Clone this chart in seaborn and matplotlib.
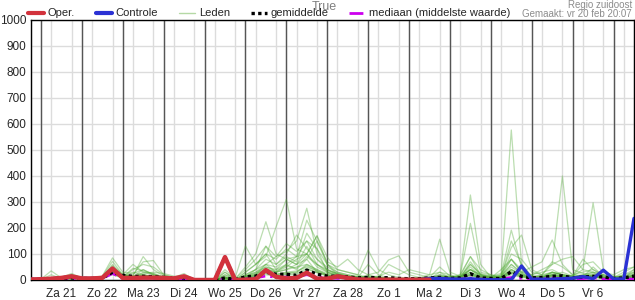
import numpy as np
import pandas as pd
import matplotlib
matplotlib.use("Agg")
import matplotlib.pyplot as plt
from matplotlib.lines import Line2D
import seaborn as sns

# ---------------- data (6-hourly, from vr 20 feb 18:00 to za 7 mrt 12:00) ----------------
start_uur = 18          # hours after vr 20 feb 00:00
stap_uur = 6
dag_labels = ["Za 21", "Zo 22", "Ma 23", "Di 24", "Wo 25", "Do 26", "Vr 27",
              "Za 28", "Zo 1", "Ma 2", "Di 3", "Wo 4", "Do 5", "Vr 6"]
y_ticks = [0, 100, 200, 300, 400, 500, 600, 700, 800, 900, 1000]

oper = [2, 3, 5, 8, 14,
        6, 6, 8, 44,
        8, 8, 9, 9,
        8, 6, 14, 0,
        0, 0, 88, 0,
        1, 3, 38, 12,
        6, 8, 28, 5,
        5, 14, 8, 2,
        1, 1, 1, 1,
        1, 1, 1]

controle = [2, 3, 5, 8, 14,
            6, 6, 8, 44,
            8, 8, 9, 9,
            8, 6, 14, 0,
            0, 0, 88, 0,
            1, 3, 38, 12,
            6, 8, 28, 5,
            5, 14, 8, 2,
            1, 1, 1, 1,
            1, 1, 6, 6,
            4, 3, 5, 2,
            1, 1, 1, 54,
            3, 3, 3, 5,
            7, 13, 5, 38,
            4, 4, 237]

gemiddelde = [2, 3, 5, 6, 8,
              6, 6, 8, 30,
              18, 14, 14, 13,
              10, 8, 8, 1,
              0, 0, 8, 2,
              12, 15, 30, 22,
              22, 18, 38, 22,
              15, 14, 12, 8,
              10, 8, 9, 6,
              5, 5, 8, 10,
              6, 8, 24, 8,
              6, 5, 32, 14,
              8, 10, 14, 16,
              8, 12, 14, 12,
              6, 8, 15]

mediaan = [0, 1, 2, 3, 4,
           3, 3, 5, 25,
           6, 6, 8, 6,
           4, 3, 5, 0,
           0, 0, 5, 0,
           5, 8, 15, 10,
           12, 12, 20, 12,
           8, 6, 5, 4,
           3, 3, 2, 2,
           2, 2, 3, 5,
           3, 4, 8, 4,
           3, 4, 10, 6,
           4, 5, 8, 5,
           4, 5, 8, 4,
           2, 3, 5]

leden = [
    [0, 2, 5, 8, 6, 4, 6, 10, 30, 12, 10, 14, 8, 6, 4, 3, 0, 0, 0, 5, 0,
     10, 20, 45, 30, 60, 40, 80, 30, 20, 10, 5, 8, 15, 10, 5, 3, 2, 5, 10, 8,
     5, 10, 40, 12, 5, 20, 577, 60, 10, 5, 8, 12, 6, 10, 20, 8, 3, 5, 10],
    [0, 3, 4, 6, 10, 5, 8, 12, 45, 20, 15, 20, 10, 8, 5, 10, 0, 0, 0, 20, 0,
     30, 60, 90, 205, 310, 120, 100, 50, 30, 20, 10, 5, 8, 12, 6, 4, 3, 4, 8, 20,
     10, 15, 90, 20, 10, 8, 40, 20, 15, 10, 30, 20, 10, 15, 12, 10, 5, 8, 15],
    [0, 1, 3, 5, 8, 6, 5, 8, 35, 10, 30, 20, 12, 6, 4, 5, 0, 0, 0, 10, 2,
     20, 40, 60, 90, 110, 150, 276, 100, 40, 25, 15, 10, 5, 8, 4, 2, 3, 6, 5, 30,
     8, 20, 327, 60, 10, 6, 30, 15, 8, 12, 20, 15, 10, 20, 30, 6, 4, 6, 20],
    [1, 2, 6, 4, 5, 8, 6, 10, 55, 15, 12, 40, 20, 10, 6, 15, 0, 0, 0, 30, 5,
     40, 80, 130, 60, 90, 70, 180, 120, 30, 15, 10, 6, 20, 10, 8, 5, 4, 3, 6, 10,
     12, 8, 30, 10, 10, 15, 60, 30, 20, 40, 60, 400, 40, 25, 15, 10, 6, 10, 30],
    [0, 2, 4, 10, 20, 6, 4, 8, 40, 12, 8, 30, 25, 10, 8, 12, 0, 0, 0, 8, 0,
     15, 30, 50, 40, 60, 90, 150, 80, 50, 30, 20, 10, 12, 8, 6, 4, 5, 6, 8, 15,
     10, 12, 60, 25, 15, 10, 80, 40, 12, 20, 30, 20, 15, 40, 297, 40, 10, 20, 40],
    [2, 4, 8, 6, 4, 10, 8, 12, 72, 20, 15, 90, 40, 15, 8, 10, 0, 0, 0, 15, 0,
     30, 60, 100, 40, 80, 60, 100, 170, 60, 20, 10, 12, 8, 6, 4, 3, 5, 8, 20, 157,
     30, 15, 218, 30, 20, 10, 40, 20, 10, 8, 20, 15, 8, 12, 50, 15, 5, 8, 15],
    [0, 1, 4, 5, 6, 8, 6, 10, 60, 20, 60, 30, 20, 12, 6, 8, 0, 0, 0, 40, 5,
     50, 100, 224, 100, 80, 60, 130, 60, 40, 20, 15, 10, 6, 5, 8, 4, 3, 5, 8, 20,
     15, 10, 70, 20, 12, 20, 192, 50, 10, 8, 30, 20, 12, 15, 25, 10, 8, 6, 20],
    [1, 3, 35, 8, 6, 5, 10, 15, 85, 30, 25, 40, 20, 10, 6, 8, 0, 0, 0, 20, 10,
     131, 60, 100, 80, 120, 90, 230, 150, 60, 30, 20, 15, 10, 8, 6, 5, 4, 5, 10, 15,
     10, 8, 50, 15, 10, 12, 150, 60, 15, 10, 20, 30, 15, 20, 30, 20, 10, 15, 25],
    [0, 2, 5, 6, 10, 8, 5, 6, 45, 15, 20, 70, 75, 20, 10, 15, 0, 0, 0, 10, 0,
     20, 40, 80, 60, 100, 173, 120, 80, 40, 25, 15, 10, 8, 6, 4, 5, 6, 8, 10, 12,
     10, 15, 40, 20, 10, 15, 125, 173, 40, 20, 70, 50, 20, 30, 40, 20, 10, 12, 20],
    [1, 2, 4, 5, 8, 6, 8, 10, 30, 12, 10, 20, 15, 8, 5, 6, 0, 0, 0, 5, 0,
     10, 25, 40, 30, 50, 80, 100, 170, 88, 40, 30, 20, 115, 40, 20, 10, 8, 6, 5, 10,
     8, 20, 90, 40, 20, 10, 100, 80, 30, 20, 60, 80, 90, 40, 30, 20, 15, 10, 20],
    [0, 3, 5, 10, 25, 8, 6, 10, 35, 10, 40, 60, 50, 20, 10, 25, 0, 0, 0, 10, 0,
     15, 30, 60, 30, 40, 60, 80, 150, 70, 50, 80, 40, 20, 30, 77, 93, 30, 20, 10, 8,
     6, 10, 60, 20, 15, 25, 80, 30, 20, 30, 40, 20, 15, 60, 70, 30, 20, 40, 50],
    [0, 2, 6, 8, 12, 10, 8, 12, 50, 20, 15, 25, 30, 25, 15, 10, 0, 0, 0, 30, 0,
     10, 40, 130, 90, 140, 110, 150, 120, 60, 40, 30, 20, 10, 15, 30, 20, 40, 30, 20, 30,
     20, 10, 40, 20, 8, 40, 80, 30, 50, 70, 154, 60, 20, 15, 20, 10, 8, 20, 30],
    [1, 2, 3, 4, 5, 4, 5, 6, 20, 8, 6, 10, 8, 5, 4, 6, 0, 0, 0, 5, 0,
     8, 15, 30, 20, 25, 30, 60, 40, 20, 15, 10, 8, 6, 5, 4, 3, 3, 4, 5, 8,
     6, 8, 20, 10, 6, 8, 30, 15, 8, 10, 15, 10, 8, 10, 12, 8, 5, 6, 10],
    [2, 3, 4, 6, 8, 6, 7, 9, 40, 18, 14, 18, 16, 8, 6, 8, 0, 0, 0, 10, 0,
     12, 20, 60, 50, 80, 90, 100, 60, 30, 20, 12, 10, 60, 20, 8, 6, 5, 8, 10, 50,
     15, 12, 30, 12, 8, 10, 50, 25, 12, 15, 25, 15, 10, 12, 15, 10, 8, 10, 15],
    [0, 1, 2, 3, 4, 3, 4, 5, 25, 10, 8, 12, 10, 6, 5, 6, 0, 0, 0, 5, 0,
     6, 10, 20, 15, 20, 20, 40, 30, 15, 10, 8, 6, 5, 4, 3, 2, 2, 3, 4, 6,
     5, 6, 15, 8, 5, 6, 20, 10, 6, 8, 12, 8, 6, 8, 10, 6, 4, 5, 8],
    [1, 3, 5, 7, 9, 7, 8, 10, 30, 14, 12, 16, 14, 9, 7, 9, 0, 0, 0, 8, 0,
     10, 18, 40, 30, 40, 50, 60, 40, 25, 18, 12, 9, 8, 7, 6, 5, 4, 6, 8, 12,
     9, 10, 25, 14, 8, 10, 40, 20, 10, 12, 20, 12, 9, 14, 18, 12, 6, 8, 12],
    [0, 2, 20, 6, 7, 5, 6, 8, 35, 12, 45, 35, 25, 12, 8, 10, 0, 0, 0, 12, 0,
     14, 25, 50, 35, 55, 45, 90, 60, 35, 25, 15, 12, 10, 9, 60, 40, 20, 10, 8, 10,
     8, 10, 40, 15, 10, 12, 60, 25, 14, 16, 30, 20, 15, 80, 40, 15, 10, 30, 50],
    [1, 2, 4, 5, 20, 6, 5, 7, 30, 11, 10, 14, 12, 8, 6, 7, 0, 0, 0, 6, 0,
     8, 14, 35, 22, 30, 35, 50, 35, 20, 14, 10, 8, 7, 6, 5, 4, 4, 5, 6, 10,
     7, 9, 22, 11, 7, 9, 35, 18, 9, 11, 18, 11, 8, 11, 14, 9, 6, 7, 40],
    [0, 1, 3, 4, 6, 4, 5, 7, 22, 9, 8, 11, 9, 6, 5, 5, 0, 0, 0, 4, 0,
     7, 12, 25, 18, 22, 25, 45, 28, 16, 11, 8, 7, 5, 5, 4, 3, 3, 4, 5, 7,
     6, 7, 18, 9, 6, 7, 25, 12, 7, 9, 14, 9, 7, 9, 11, 7, 5, 6, 9],
    [2, 3, 5, 6, 8, 6, 7, 8, 28, 10, 12, 15, 12, 7, 6, 8, 0, 0, 0, 8, 0,
     9, 16, 30, 22, 28, 30, 55, 35, 18, 12, 9, 8, 6, 6, 5, 4, 4, 5, 7, 9,
     7, 8, 20, 10, 7, 8, 28, 14, 8, 10, 16, 10, 8, 10, 13, 8, 6, 8, 12],
]

# ---------------- build tables ----------------
n = len(controle)
uren = [start_uur + stap_uur * i for i in range(n)]
oper_vol = oper + [np.nan] * (n - len(oper))

df_leden = pd.DataFrame({
    "uur": np.tile(uren, len(leden)),
    "waarde": np.concatenate([np.asarray(m, dtype=float) for m in leden]),
    "lid": np.repeat(np.arange(len(leden)), n),
})
df_main = pd.DataFrame({"uur": uren, "oper": oper_vol, "controle": controle,
                        "gemiddelde": gemiddelde, "mediaan": mediaan})

# ---------------- style ----------------
sns.set_theme(style="white")
plt.rcParams["font.family"] = ["Liberation Sans", "DejaVu Sans"]

RED = "#d2323c"
BLUE = "#2b32d4"
GREEN = "#4ea832"
MAGENTA = "#cc00ee"
GRID = "#dcdcdc"
DAYLINE = "#555555"

fig = plt.figure(figsize=(6.35, 3.0), dpi=100)
ax = fig.add_axes([30.7 / 635, 1 - 280 / 300, (634 - 30.7) / 635, 260 / 300])

x_min = uren[0]
x_max = uren[-1]
ax.set_xlim(x_min, x_max)
ax.set_ylim(0, 1000)

# grid
ax.set_yticks(y_ticks)
ax.set_yticklabels([str(v) for v in y_ticks])
ax.set_xticks(np.arange(x_min, x_max + 1, stap_uur), minor=True)
ax.grid(axis="y", which="major", color=GRID, lw=1)
ax.grid(axis="x", which="minor", color=GRID, lw=1)
dag_grenzen = [24 * (k + 1) for k in range(len(dag_labels) + 1)]
ax.vlines(dag_grenzen, 0, 1000, color=DAYLINE, lw=1, zorder=1.5)
ax.set_xticks([24 * (k + 1) + 12 for k in range(len(dag_labels))])
ax.set_xticklabels(dag_labels)
ax.tick_params(axis="x", which="both", length=4, width=1, color="black",
               direction="out", labelsize=8.5, pad=2)
ax.tick_params(axis="y", length=0, labelsize=8.5, pad=3)
for s in ax.spines.values():
    s.set_color("black")
    s.set_linewidth(1)

# lines
sns.lineplot(data=df_leden, x="uur", y="waarde", units="lid", estimator=None,
             color=GREEN, alpha=0.38, lw=0.9, ax=ax, legend=False, zorder=3)
sns.lineplot(data=df_main, x="uur", y="mediaan", color=MAGENTA, lw=1.8,
             linestyle=(0, (5, 2, 1, 2)), ax=ax, legend=False, zorder=4)
sns.lineplot(data=df_main, x="uur", y="gemiddelde", color="black", lw=2.4,
             linestyle=(0, (1, 1)), ax=ax, legend=False, zorder=5)
sns.lineplot(data=df_main, x="uur", y="controle", color=BLUE, lw=2.4,
             ax=ax, legend=False, zorder=6)
sns.lineplot(data=df_main.dropna(subset=["oper"]), x="uur", y="oper", color=RED,
             lw=3.2, ax=ax, legend=False, zorder=7)
ax.set_xlabel("")
ax.set_ylabel("")

# legend
handles = [
    Line2D([], [], color=RED, lw=3.0),
    Line2D([], [], color=BLUE, lw=3.0),
    Line2D([], [], color="#b5d9a5", lw=1.0),
    Line2D([], [], color="black", lw=2.4, linestyle=(0, (1, 1))),
    Line2D([], [], color=MAGENTA, lw=2.0, linestyle=(0, (5, 2, 1, 2))),
]
labels = ["Oper.", "Controle", "Leden", "gemiddelde", "mediaan (middelste waarde)"]

fig.text(324 / 635, 1 - 7.5 / 300, "True", ha="center", va="center",
         fontsize=9, color="#808080")
fig.legend(handles, labels, ncol=5, loc="center left",
           bbox_to_anchor=(28 / 635, 1 - 13.5 / 300), frameon=False,
           fontsize=8, handlelength=1.45, handletextpad=0.35, columnspacing=1.85,
           borderpad=0, borderaxespad=0)
fig.text(632 / 635, 1 - 5 / 300, "Regio zuidoost", ha="right", va="center",
         fontsize=7, color="#8c8c8c")
fig.text(632 / 635, 1 - 14 / 300, "Gemaakt: vr 20 feb 20:07", ha="right",
         va="center", fontsize=7, color="#8c8c8c")

fig.savefig("out.png", dpi=100)
